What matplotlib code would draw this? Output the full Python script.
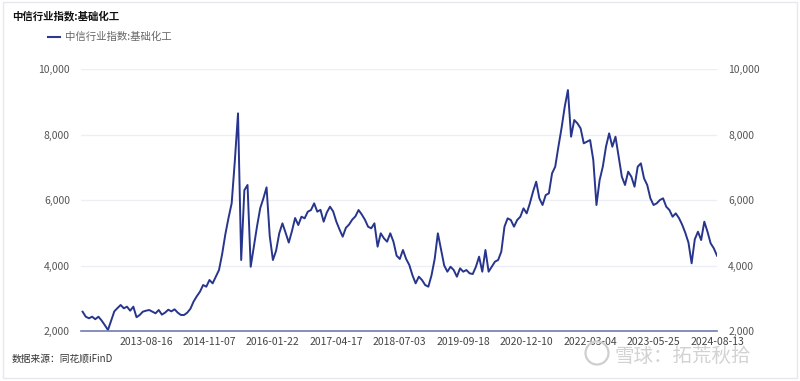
import matplotlib
matplotlib.use("Agg")
import matplotlib.pyplot as plt
import numpy as np
from matplotlib.patches import Rectangle, Circle

plt.rcParams['font.family'] = ['Noto Sans CJK SC', 'DejaVu Sans']

title = "中信行业指数:基础化工"
series_name = "中信行业指数:基础化工"
source = "数据来源：同花顺iFinD"
watermark = "雪球：拓荒秋拾"

tick_labels = ["2013-08-16", "2014-11-07", "2016-01-22", "2017-04-17", "2018-07-03",
               "2019-09-18", "2020-12-10", "2022-03-04", "2023-05-25", "2024-08-13"]
samples_per_tick = 20

values = [
    2590, 2437, 2388, 2437, 2360, 2437, 2320, 2180, 2030, 2320,
    2600, 2700, 2794, 2693, 2743, 2620, 2743, 2420, 2489, 2590,
    2620, 2641, 2590, 2540, 2641, 2500, 2560, 2650, 2600, 2662,
    2560, 2489, 2489, 2560, 2680, 2900, 3060, 3200, 3404, 3353,
    3557, 3455, 3658, 3862, 4350, 4950, 5450, 5900, 7200, 8646,
    4168, 6300, 6458, 3963, 4575, 5200, 5750, 6050, 6387, 4900,
    4168, 4450, 4983, 5288, 5000, 4700, 5050, 5450, 5236, 5490,
    5440, 5643, 5694, 5898, 5643, 5700, 5338, 5620, 5796, 5650,
    5338, 5100, 4880, 5150, 5250, 5400, 5500, 5694, 5560, 5400,
    5185, 5135, 5288, 4575, 4983, 4830, 4728, 4983, 4728, 4300,
    4200, 4474, 4200, 4015, 3700, 3455, 3658, 3557, 3404, 3353,
    3700, 4200, 4983, 4500, 4000, 3811, 3963, 3862, 3658, 3914,
    3811, 3862, 3761, 3740, 3963, 4270, 3811, 4474, 3811, 3963,
    4117, 4168, 4422, 5185, 5440, 5389, 5185, 5389, 5490, 5745,
    5592, 5898, 6254, 6559, 6051, 5847, 6150, 6203, 6814, 7017,
    7627, 8200, 8849, 9358, 7932, 8442, 8340, 8188, 7730, 7780,
    7831, 7220, 5847, 6610, 7017, 7627, 8035, 7627, 7932, 7322,
    6712, 6458, 6865, 6712, 6407, 7017, 7119, 6661, 6458, 6051,
    5847, 5898, 6000, 6051, 5796, 5694, 5490, 5592, 5450, 5250,
    5000, 4700, 4067, 4800, 5032, 4778, 5338, 5032, 4677, 4524,
    4300,
]

y_ticks = [2000, 4000, 6000, 8000, 10000]

W, H = 800, 381
fig = plt.figure(figsize=(W / 100, H / 100), dpi=100)
fig.patch.set_facecolor("white")

# outer frame
fig.patches.append(Rectangle((3 / W, 3 / H), 794 / W, 376 / H, transform=fig.transFigure,
                             fill=False, edgecolor="#e6e8ef", linewidth=1))

ax_left, ax_right = 81 / W, 717 / W
ax_bottom, ax_top = (H - 331) / H, (H - 69) / H
ax = fig.add_axes([ax_left, ax_bottom, ax_right - ax_left, ax_top - ax_bottom])

x = np.arange(len(values))
ax.plot(x, values, color="#27358c", linewidth=1.4, solid_joinstyle="round")

ax.set_xlim(-0.5, len(values) - 1)
ax.set_ylim(y_ticks[0], y_ticks[-1])

for v in y_ticks[1:]:
    ax.axhline(v, color="#eceef5", linewidth=0.9, zorder=0)
ax.axhline(y_ticks[0], color="#6f7cb3", linewidth=1.2, zorder=3, clip_on=False)

for s in ax.spines.values():
    s.set_visible(False)

ax.set_yticks(y_ticks)
ax.set_yticklabels([f"{v:,}" for v in y_ticks])
ax.tick_params(axis="y", length=0, pad=8, labelsize=7.5, labelcolor="#555555")
ax.tick_params(axis="y", which="both", labelright=True, right=False)

tick_pos = [samples_per_tick * (k + 1) for k in range(len(tick_labels))]
ax.set_xticks(tick_pos)
ax.set_xticklabels(tick_labels)
ax.tick_params(axis="x", length=0, pad=4, labelsize=7.5, labelcolor="#444444")

# title and legend
fig.text(12 / W, 1 - 16 / H, title, fontsize=7.5, fontweight="bold", color="#111111",
         va="center", ha="left")
fig.add_artist(plt.Line2D([48 / W, 60 / W], [1 - 37 / H, 1 - 37 / H], color="#2b3990",
                          linewidth=1.5, transform=fig.transFigure))
fig.text(65 / W, 1 - 37 / H, series_name, fontsize=7.5, color="#666666", va="center", ha="left")

fig.text(12 / W, 1 - 359 / H, source, fontsize=7, color="#333333", va="center", ha="left")

# watermark
fig.patches.append(Circle((597 / 100, (H - 353) / 100), 0.115, transform=fig.dpi_scale_trans,
                          fill=False, edgecolor="#cfcfcf", linewidth=1.6))
fig.text(615 / W, 1 - 356 / H, watermark, fontsize=14, color="#d2d2d2", va="center", ha="left")

fig.savefig("out.png", dpi=100)
